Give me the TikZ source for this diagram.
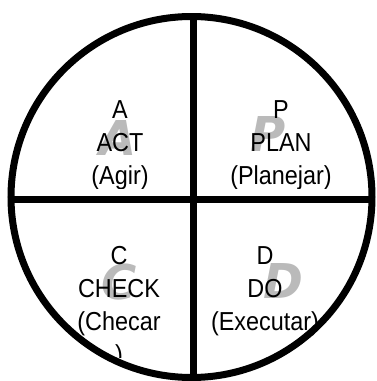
\documentclass[tikz,border=0pt]{standalone}
\usepackage{fontspec}
\setmainfont{Liberation Sans}[FakeStretch=0.9]
\newfontfamily\ghostfont{DejaVu Sans}
\begin{document}
\begin{tikzpicture}[x=1pt,y=-1pt,
    label text/.style={inner sep=0pt, anchor=north, align=center,
      font=\fontsize{26}{33}\selectfont},
    ghost/.style={inner sep=0pt, text=black!27,
      font=\ghostfont\bfseries\itshape\fontsize{48}{48}\selectfont},
    rim/.style={line width=7pt}]
  \useasboundingbox (0,0) rectangle (376,381);
  % large grey initials behind the labels
  \node[ghost] (gA) at (118,138) {A};
  \node[ghost] (gP) at (268,134) {P};
  \node[ghost] (gC) at (119,282) {C};
  \node[ghost] (gD) at (283,281) {D};
  % quadrant labels, cut off at the bottom of their cells
  \begin{scope}
    \clip (15,20) rectangle (190,188);
    \node[label text] (act) at (120,100.5) {A\\ACT\\(Agir)};
  \end{scope}
  \begin{scope}
    \clip (197,20) rectangle (372,188);
    \node[label text] (plan) at (281,100.5) {P\\PLAN\\(Planejar)};
  \end{scope}
  \begin{scope}
    \clip (15,204) rectangle (190,357);
    \node[label text] (check) at (119,246.5) {C\\CHECK\\(Checar\\)};
  \end{scope}
  \begin{scope}
    \clip (197,204) rectangle (372,378);
    \node[label text] (do) at (265,246.5) {D\\DO\\(Executar)};
  \end{scope}
  % the wheel and its cross
  \draw[rim] (191.5,197) circle[radius=180.5];
  \coordinate (top) at (193.5,17);
  \coordinate (bottom) at (193.5,378);
  \coordinate (left) at (11,199.5);
  \coordinate (right) at (372,199.5);
  \draw[rim] (top) -- (bottom);
  \draw[rim] (left) -- (right);
\end{tikzpicture}
\end{document}
